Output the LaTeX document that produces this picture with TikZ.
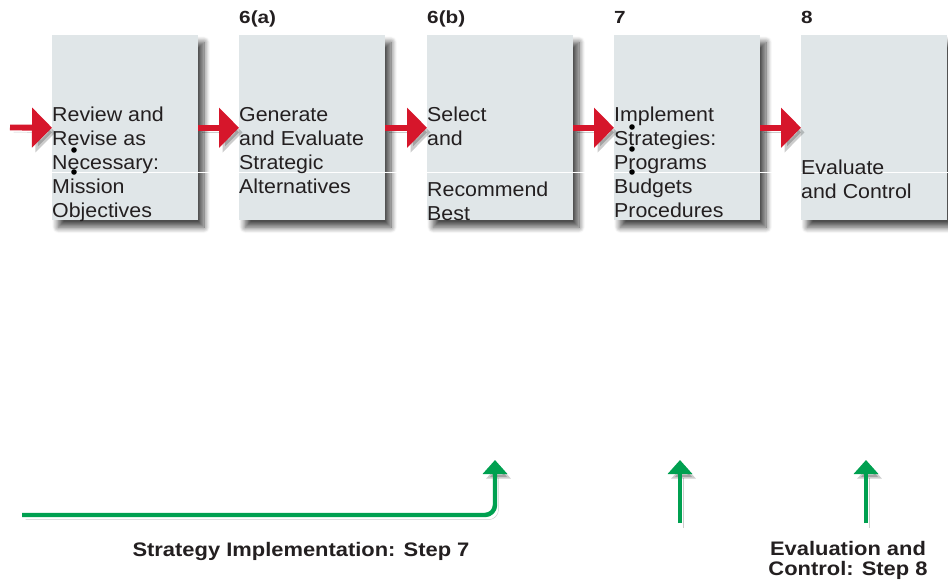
\documentclass[tikz,border=0pt]{standalone}
\usepackage{fontspec}
\setmainfont{Liberation Sans}
\newfontfamily\boxfont[FakeStretch=1.06]{Liberation Sans}
\newfontfamily\numfont[FakeStretch=1.18]{Liberation Sans}
\newfontfamily\phasefont[FakeStretch=1.12]{Liberation Sans}
\usetikzlibrary{arrows.meta,shadows.blur}

\definecolor{boxgray}{RGB}{224,230,232}
\definecolor{arrowred}{RGB}{214,22,43}
\definecolor{arrowgreen}{RGB}{0,160,80}
\definecolor{textgray}{RGB}{35,31,32}

\tikzset{
  stepbox/.style={fill=boxgray, minimum width=4.38cm, minimum height=5.55cm,
    inner sep=0, anchor=north west,
    blur shadow={shadow xshift=5pt, shadow yshift=-6pt, shadow blur steps=10,
      shadow blur radius=5pt, shadow opacity=70}},
  boxtext/.style={anchor=north west, inner sep=0, align=left, text=textgray,
    font=\boxfont\fontsize{17.2}{20.5}\selectfont},
  steplabel/.style={anchor=base west, inner sep=0, text=textgray,
    font=\numfont\bfseries\fontsize{15}{16}\selectfont},
  phaselabel/.style={inner sep=0, align=center, text=textgray,
    font=\phasefont\bfseries\fontsize{16.7}{17}\selectfont},
  arrowshade/.style={preaction={draw=black, opacity=0.2,
    transform canvas={xshift=3pt, yshift=-4pt}}},
  redarrow/.style={draw=arrowred, line width=5pt, arrowshade,
    -{Triangle[length=0.6cm, width=1.17cm]}},
  greenarrow/.style={draw=arrowgreen, line width=3.8pt, arrowshade,
    -{Triangle[length=0.42cm, width=0.72cm]}},
}

\begin{document}
\begin{tikzpicture}[x=0.03cm, y=-0.03cm, line join=round]

  \useasboundingbox (0,0) rectangle (948,584);

  % the five step boxes
  \node[stepbox] (review)    at (52,35)  {};
  \node[stepbox] (generate)  at (239,35) {};
  \node[stepbox] (select)    at (427,35) {};
  \node[stepbox] (implement) at (614,35) {};
  \node[stepbox] (evaluate)  at (801,35) {};

  % thin white rule across the row
  \draw[white, line width=0.8pt] (0,172) -- (948,172);

  % step numbers above the boxes
  \node[steplabel] (lab6a) at (239,23) {6(a)};
  \node[steplabel] (lab6b) at (427,23) {6(b)};
  \node[steplabel] (lab7)  at (614,23) {7};
  \node[steplabel] (lab8)  at (801,23) {8};

  % texts inside the boxes
  \node[boxtext] (reviewtxt) at (52,107)
    {Review and\\Revise as\\Necessary:\\Mission\\Objectives};
  \node[boxtext] (generatetxt) at (239,107)
    {Generate\\and Evaluate\\Strategic\\Alternatives};
  \node[boxtext] (selecttxt) at (427,107)
    {Select\\and\\[22.6pt]Recommend\\Best};
  \node[boxtext] (implementtxt) at (614,107)
    {Implement\\Strategies:\\Programs\\Budgets\\Procedures};
  \node[boxtext] (evaluatetxt) at (801,160)
    {Evaluate\\and Control};

  % stray bullets
  \fill[black] (74,150) circle[radius=2.8];
  \fill[black] (74,172) circle[radius=2.8];
  \fill[black] (632,127) circle[radius=2.8];
  \fill[black] (632,149) circle[radius=2.8];
  \fill[black] (632,172) circle[radius=2.8];

  % red arrows between the boxes
  \coordinate (inflow) at (10,127.5);
  \draw[redarrow] (inflow) -- (review.west);
  \draw[redarrow] (review.east) -- (generate.west);
  \draw[redarrow] (generate.east) -- (select.west);
  \draw[redarrow] (select.east) -- (implement.west);
  \draw[redarrow] (implement.east) -- (evaluate.west);

  % green feedback arrows
  \coordinate (implstart) at (22,515);
  \coordinate (impltip)   at (495,460);
  \coordinate (midfoot)   at (680,523);
  \coordinate (midtip)    at (680,460);
  \coordinate (evalfoot)  at (866,523);
  \coordinate (evaltip)   at (866,460);
  \draw[greenarrow, rounded corners=0.3cm] (implstart) -| (impltip);
  \draw[greenarrow] (midfoot) -- (midtip);
  \draw[greenarrow] (evalfoot) -- (evaltip);

  % phase labels
  \node[phaselabel, anchor=base] (impllabel) at (301,556.5)
    {Strategy Implementation: Step 7};
  \node[phaselabel, anchor=north] (evallabel) at (848,541.5)
    {Evaluation and\\Control: Step 8};

\end{tikzpicture}
\end{document}
